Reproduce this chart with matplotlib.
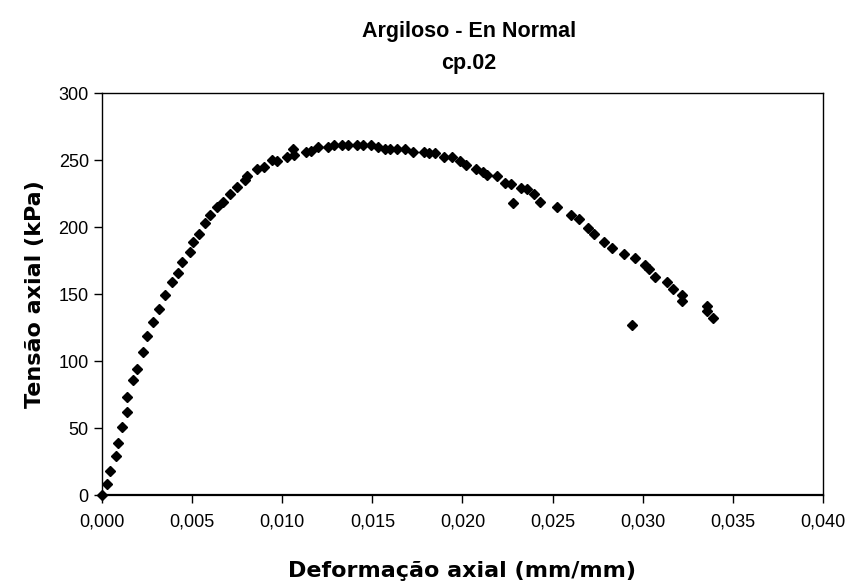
import matplotlib
matplotlib.use('Agg')
import matplotlib.pyplot as plt
from matplotlib.ticker import FuncFormatter

plt.rcParams['font.family'] = ['Liberation Sans', 'DejaVu Sans']

# deformacao axial (mm/mm) e tensao axial (kPa)
deformacao = [
    0.0000, 0.00026, 0.00044, 0.00076, 0.00087, 0.0011, 0.0014, 0.0014,
    0.00174, 0.00194, 0.00229, 0.00250, 0.00281, 0.00317, 0.00347, 0.00389,
    0.00422, 0.00444, 0.00488, 0.00506, 0.0054, 0.00573, 0.00599, 0.00636,
    0.00673, 0.0071, 0.00747, 0.00793, 0.00805, 0.00861, 0.00899, 0.00943,
    0.00973, 0.01025, 0.01058, 0.01065, 0.01132, 0.01158, 0.01200, 0.01256,
    0.01287, 0.0133, 0.01363, 0.01413, 0.01446, 0.0149, 0.01533, 0.0157,
    0.01600, 0.01638, 0.0168, 0.01727, 0.01787, 0.01816, 0.01847, 0.01897,
    0.0194, 0.01986, 0.0202, 0.02075, 0.02112, 0.02137, 0.0219, 0.02236,
    0.02267, 0.02278, 0.02323, 0.02356, 0.02397, 0.0243, 0.02526, 0.026,
    0.02648, 0.02698, 0.02730, 0.02785, 0.02828, 0.02894, 0.02938, 0.02957,
    0.03013, 0.03037, 0.03068, 0.03133, 0.03166, 0.03216, 0.03216, 0.03355,
    0.03355, 0.03392,
]
tensao = [
    0, 8, 18, 29, 39, 51, 62, 73,
    86, 94, 107, 119, 129, 139, 149, 159,
    166, 174, 181, 189, 195, 203, 209, 215,
    219, 225, 230, 235, 238, 243, 245, 250,
    249, 252, 258, 254, 256, 257, 260, 260,
    261, 261, 261, 261, 261, 261, 260, 258,
    258, 258, 258, 256, 256, 255, 255, 252,
    252, 249, 246, 243, 241, 239, 238, 233,
    232, 218, 229, 228, 225, 219, 215, 209,
    206, 199, 195, 189, 184, 180, 127, 177,
    172, 169, 163, 159, 154, 149, 145, 141,
    137, 132,
]

fig = plt.figure(figsize=(8.53, 5.85), dpi=100)
ax = fig.add_axes([0.1196, 0.1538, 0.8452, 0.6872])

ax.plot(deformacao, tensao, linestyle='none', marker='D', markersize=5,
        color='black', clip_on=False)

ax.set_xlim(0, 0.040)
ax.set_ylim(0, 300)
ax.set_xticks([i * 0.005 for i in range(9)])
ax.set_yticks(range(0, 301, 50))
ax.xaxis.set_major_formatter(FuncFormatter(lambda v, p: f"{v:.3f}".replace('.', ',')))

ax.tick_params(direction='out', length=6, width=1, labelsize=13, colors='black')
ax.tick_params(axis='x', pad=7)
for s in ax.spines.values():
    s.set_linewidth(1)
ax.spines['bottom'].set_linewidth(1.6)

lab_font = ['DejaVu Sans']
ax.set_xlabel("Deformação axial (mm/mm)", fontsize=16, fontweight='bold',
              family=lab_font, labelpad=22)
ax.set_ylabel("Tensão axial (kPa)", fontsize=16, fontweight='bold',
              family=lab_font, labelpad=10)
fig.text(0.55, 0.947, "Argiloso - En Normal", ha='center', va='center',
         fontsize=15.5, fontweight='bold')
fig.text(0.55, 0.892, "cp.02", ha='center', va='center',
         fontsize=15.5, fontweight='bold')

fig.savefig('out.png', dpi=100)
